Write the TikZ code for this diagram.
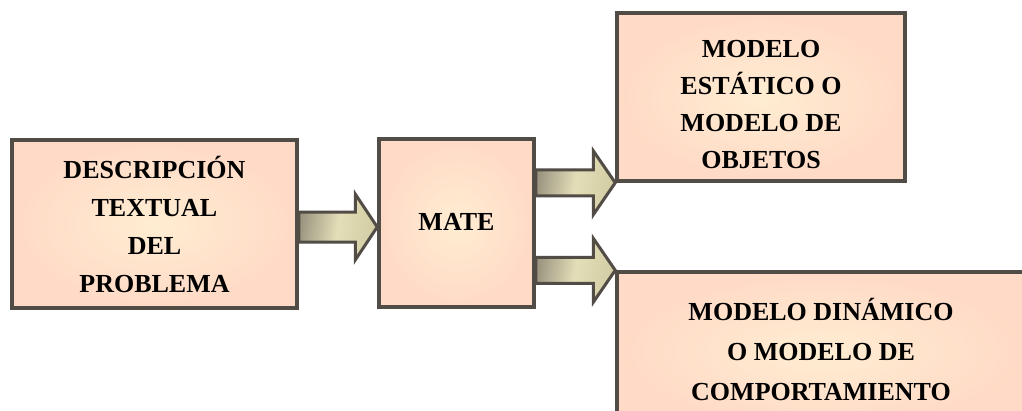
\documentclass[tikz,border=0pt]{standalone}
\usepackage{fontspec}
\setmainfont{Liberation Serif}
\usetikzlibrary{calc,shadows}

\definecolor{boxedge}{HTML}{524C46}
\definecolor{boxout}{HTML}{FFDAC6}
\definecolor{boxin}{HTML}{FFEDD2}
\definecolor{arrowL}{HTML}{9A9480}
\definecolor{arrowM}{HTML}{E4DEB8}
\definecolor{arrowR}{HTML}{D2CCA4}

\tikzset{
  stagebox/.style={draw=boxedge, line width=3.5pt, rectangle,
    inner color=boxin, outer color=boxout,
    drop shadow={shadow xshift=1.5pt, shadow yshift=-1.5pt, fill=black!35, opacity=.5},
    align=center, font=\fontsize{26}{38}\selectfont\bfseries, inner sep=0pt},
  stagetext/.style={align=center, font=\fontsize{26}{37}\selectfont\bfseries, inner sep=0pt},
  arrowbody/.style={draw=boxedge, line width=3pt, line join=miter,
    left color=arrowL, right color=arrowR, middle color=arrowM, shading angle=80},
}

% block arrow: tail point, tip point, half shaft height, half head height, head length
\newcommand{\blockarrow}[5]{%
  \path[arrowbody] let \p1=(#1), \p2=(#2) in
    (\x1,{\y2+#3}) -- ({\x2-#5},{\y2+#3}) -- ({\x2-#5},{\y2+#4}) -- (\x2,\y2)
    -- ({\x2-#5},{\y2-#4}) -- ({\x2-#5},{\y2-#3}) -- (\x1,{\y2-#3}) -- cycle;}

\begin{document}
\begin{tikzpicture}[x=1pt, y=-1pt]
  \clip (0,0) rectangle (1022,410);
  \fill[white] (0,0) rectangle (1022,410);

  \node[stagebox, minimum width=285pt, minimum height=168pt] (desc) at (154.5,224)
    {DESCRIPCIÓN\\TEXTUAL\\DEL\\PROBLEMA};
  \node[stagebox, minimum width=155pt, minimum height=168pt] (mate) at (456.5,223)
    {\raisebox{2pt}{MATE}};
  \node[stagebox, minimum width=288pt, minimum height=168pt] (est) at (761,97) {};
  \node[stagetext] (esttext) at ($(est.center)+(0,8)$)
    {MODELO\\ESTÁTICO O\\MODELO DE\\OBJETOS};
  \node[stagebox, minimum width=408pt, minimum height=158pt] (din) at (821,351) {};
  \node[stagetext, font=\fontsize{26}{40}\selectfont\bfseries] (dintext)
    at ($(din.center)+(0,-2)$)
    {MODELO DINÁMICO\\O MODELO DE\\COMPORTAMIENTO};

  \coordinate (t1) at ($(desc.east)+(0,3)$);
  \blockarrow{t1}{mate.west |- t1}{15pt}{33pt}{22pt}
  \blockarrow{mate.east}{est.south west}{13pt}{32pt}{22pt}
  \blockarrow{mate.east}{din.north west}{13pt}{32pt}{22pt}
\end{tikzpicture}
\end{document}
